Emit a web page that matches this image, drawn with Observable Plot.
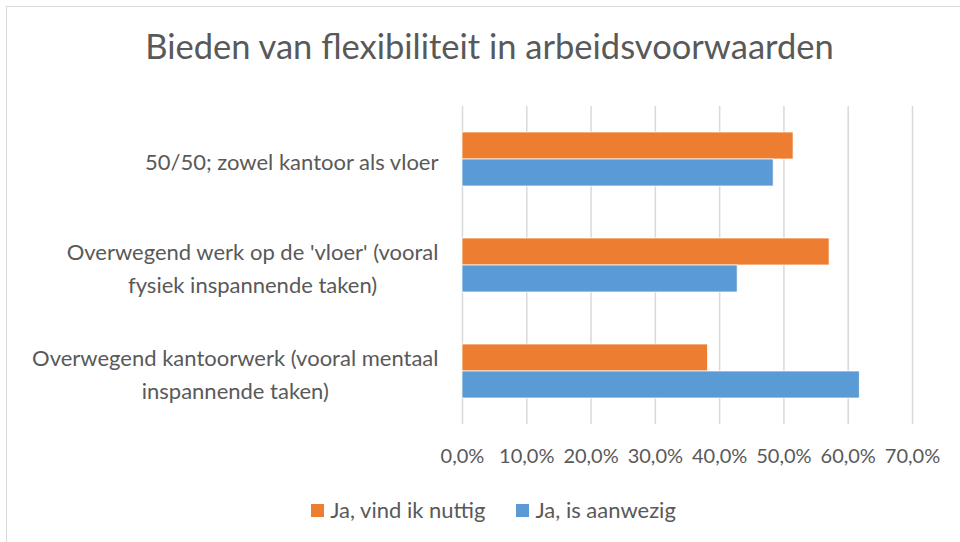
<!DOCTYPE html>
<html>
<head>
<meta charset="utf-8">
<script src="https://cdn.jsdelivr.net/npm/d3@7"></script>
<script src="https://cdn.jsdelivr.net/npm/@observablehq/plot@0.6"></script>
<style>
  html, body { margin: 0; padding: 0; background: #fff; }
  body { width: 960px; height: 542px; overflow: hidden; position: relative; font-family: Lato, "Open Sans", sans-serif; color: #595959; }
  #border { position: absolute; left: 6px; top: 6px; width: 1000px; height: 600px; border: 1.5px solid #d9d9d9; box-sizing: border-box; }
  #title { position: absolute; left: 0; top: 25px; width: 979px; text-align: center; font-size: 34.5px; line-height: 1.2; }
  #chart { position: absolute; left: 0; top: 0; }
  #legend { position: absolute; left: 0; top: 497px; width: 987px; display: flex; justify-content: center; gap: 31px; font-size: 22px; line-height: 26px; }
  .item { display: flex; align-items: center; }
  .sw { width: 13px; height: 13px; margin-right: 6px; display: inline-block; }
</style>
</head>
<body>
<div id="border"></div>
<div id="title">Bieden van flexibiliteit in arbeidsvoorwaarden</div>
<div id="chart"></div>
<div id="legend"></div>
<script>
const categories = [
  "50/50; zowel kantoor als vloer",
  "Overwegend werk op de 'vloer' (vooral fysiek inspannende taken)",
  "Overwegend kantoorwerk (vooral mentaal inspannende taken)"
];
const categoryLabels = [
  "50/50; zowel kantoor als vloer",
  "Overwegend werk op de 'vloer' (vooral\nfysiek inspannende taken)",
  "Overwegend kantoorwerk (vooral mentaal\ninspannende taken)"
];
const series = ["Ja, vind ik nuttig", "Ja, is aanwezig"];
const nuttig = [0.515, 0.571, 0.382];
const aanwezig = [0.484, 0.428, 0.618];
const xTicks = [0, 0.1, 0.2, 0.3, 0.4, 0.5, 0.6, 0.7];
const colors = ["#ED7D31", "#5B9BD5"];

const rows = categories.flatMap((c, i) => [
  {category: c, series: series[0], value: nuttig[i]},
  {category: c, series: series[1], value: aanwezig[i]}
]);
const fmt = d => (d * 100).toFixed(1).replace(".", ",") + "%";

const chart = Plot.plot({
  width: 960,
  height: 542,
  marginLeft: 462,
  marginRight: 48,
  marginTop: 105,
  marginBottom: 117,
  style: {fontFamily: "Lato, 'Open Sans', sans-serif", fontSize: "20px", color: "#595959", background: "transparent"},
  x: {domain: [0, 0.7]},
  y: {domain: series, paddingInner: 0, paddingOuter: 0.92, axis: null},
  fy: {domain: categories, padding: 0},
  color: {domain: series, range: colors},
  marks: [
    Plot.gridX(xTicks, {stroke: "#d9d9d9", strokeOpacity: 1, strokeWidth: 1.5}),
    Plot.barX(rows, {x: "value", y: "series", fy: "category", fill: "series", stroke: "white", strokeWidth: 0.75}),
    Plot.axisX(xTicks, {anchor: "bottom", tickSize: 0, tickPadding: 24, tickFormat: fmt, label: null, fontSize: 20, fill: "#595959"}),
    Plot.axisFy({anchor: "left", tickSize: 0, tickPadding: 24, label: null, fontSize: 22, fill: "#595959", lineHeight: 1.5,
      tickFormat: c => categoryLabels[categories.indexOf(c)]})
  ]
});
document.getElementById("chart").appendChild(chart);

// center wrapped lines of category labels like the original
function centerLabels() {
  chart.querySelectorAll('g[aria-label="fy-axis tick label"] text').forEach(t => {
    const spans = t.querySelectorAll("tspan");
    if (spans.length < 2) return;
    let max = 0;
    spans.forEach(s => { max = Math.max(max, s.getComputedTextLength()); });
    t.setAttribute("text-anchor", "middle");
    spans.forEach(s => s.setAttribute("x", -max / 2));
  });
}
if (document.fonts && document.fonts.ready) document.fonts.ready.then(centerLabels);
centerLabels();

const legend = document.getElementById("legend");
series.forEach((s, i) => {
  const item = document.createElement("div");
  item.className = "item";
  const sw = document.createElement("span");
  sw.className = "sw";
  sw.style.background = colors[i];
  item.appendChild(sw);
  item.appendChild(document.createTextNode(s));
  legend.appendChild(item);
});
</script>
</body>
</html>
